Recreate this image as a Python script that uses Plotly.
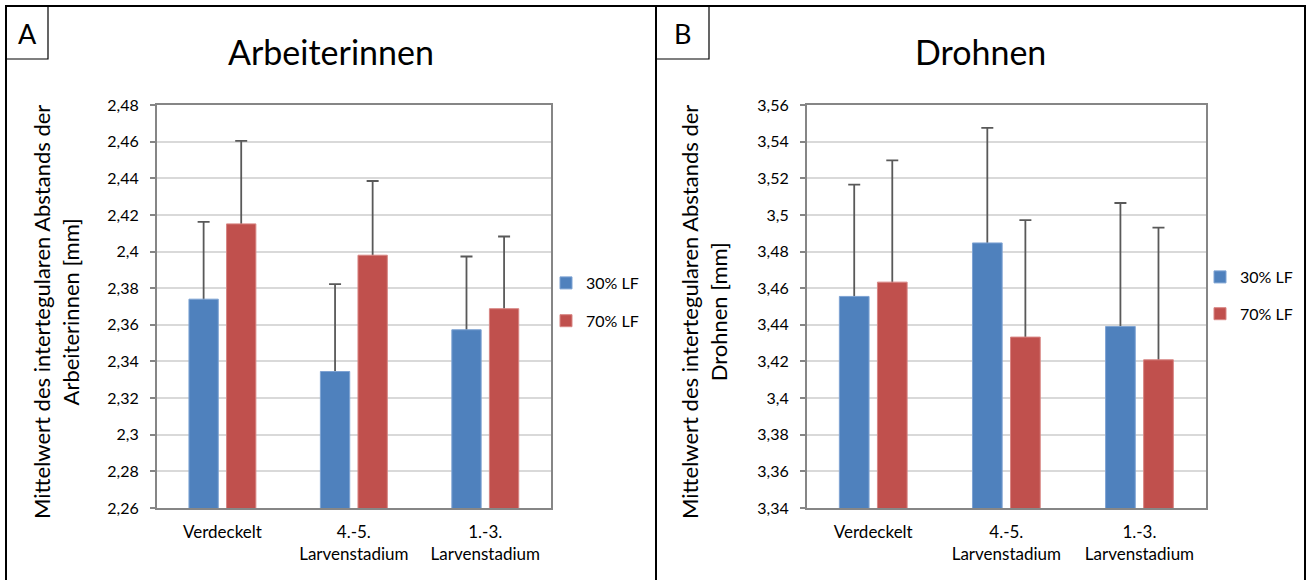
import plotly.graph_objects as go

# ---------------- data ----------------
categories = ["Verdeckelt", "4.-5.<br>Larvenstadium", "1.-3.<br>Larvenstadium"]
series_names = ["30% LF", "70% LF"]

workers_30 = [2.374, 2.3345, 2.3573]
workers_70 = [2.4151, 2.398, 2.3688]
workers_30_err = [0.0422, 0.0477, 0.0400]
workers_70_err = [0.0453, 0.0405, 0.0394]

drones_30 = [3.4555, 3.4847, 3.4391]
drones_70 = [3.4633, 3.4333, 3.4209]
drones_30_err = [0.0610, 0.0628, 0.0674]
drones_70_err = [0.0665, 0.0638, 0.0722]

workers_ticks = [2.26, 2.28, 2.30, 2.32, 2.34, 2.36, 2.38, 2.40, 2.42, 2.44, 2.46, 2.48]
workers_ticktext = ["2,26", "2,28", "2,3", "2,32", "2,34", "2,36", "2,38", "2,4", "2,42", "2,44", "2,46", "2,48"]
drones_ticks = [3.34, 3.36, 3.38, 3.40, 3.42, 3.44, 3.46, 3.48, 3.50, 3.52, 3.54, 3.56]
drones_ticktext = ["3,34", "3,36", "3,38", "3,4", "3,42", "3,44", "3,46", "3,48", "3,5", "3,52", "3,54", "3,56"]

panel_titles = ["Arbeiterinnen", "Drohnen"]
panel_letters = ["A", "B"]
y_titles = ["Mittelwert des intertegularen Abstands der<br>Arbeiterinnen [mm]",
            "Mittelwert des intertegularen Abstands der<br>Drohnen [mm]"]

# ---------------- style ----------------
W, H = 1307, 580
BLUE, RED = "#4F81BD", "#C0504D"
BLUE_EDGE, RED_EDGE = "#7EA3D3", "#D88583"
ERR = "#595959"
FONT = "Lato, 'Open Sans', sans-serif"

def px(x):
    return x / W

def py(y):
    return 1 - y / H

fig = go.Figure()

panels = [
    dict(xa="x", ya="y", legend="legend",
         vals=[workers_30, workers_70], errs=[workers_30_err, workers_70_err]),
    dict(xa="x2", ya="y2", legend="legend2",
         vals=[drones_30, drones_70], errs=[drones_30_err, drones_70_err]),
]
colors = [BLUE, RED]
edges = [BLUE_EDGE, RED_EDGE]

for p in panels:
    for i in range(2):
        # error-bar carrier, drawn first so the solid bar hides the lower half
        fig.add_trace(go.Bar(
            x=categories, y=p["vals"][i], xaxis=p["xa"], yaxis=p["ya"],
            offsetgroup=str(i), marker=dict(color="rgba(0,0,0,0)", line=dict(width=0)),
            error_y=dict(type="data", array=p["errs"][i], symmetric=True,
                         color=ERR, thickness=1.8, width=6),
            showlegend=False, hoverinfo="skip",
        ))
        fig.add_trace(go.Bar(
            x=categories, y=p["vals"][i], xaxis=p["xa"], yaxis=p["ya"],
            offsetgroup=str(i), name=series_names[i], legend=p["legend"],
            legendgroup=p["legend"] + str(i),
            marker=dict(color=colors[i], line=dict(color=edges[i], width=1)),
        ))

y_top, y_bot = 105, 508
axis_common = dict(showline=True, linecolor="#868686", linewidth=1.5, mirror=True,
                   automargin=False, zeroline=False)

fig.update_layout(
    width=W, height=H, autosize=False,
    margin=dict(l=0, r=0, t=0, b=0, pad=0),
    paper_bgcolor="white", plot_bgcolor="white",
    barmode="group", bargap=0.428, bargroupgap=0.22,
    font=dict(family=FONT, color="#000000", size=16),
    xaxis=dict(domain=[px(156.7), px(551)], anchor="y", ticks="",
               tickfont=dict(size=17), ticklabelstandoff=8, **axis_common),
    xaxis2=dict(domain=[px(806.7), px(1206)], anchor="y2", ticks="",
                tickfont=dict(size=17), ticklabelstandoff=8, **axis_common),
    yaxis=dict(domain=[py(y_bot), py(y_top)], anchor="x", range=[2.26, 2.48],
               tickvals=workers_ticks, ticktext=workers_ticktext,
               ticks="outside", ticklen=5, tickcolor="#868686", tickwidth=1.5,
               showgrid=True, gridcolor="#D9D9D9", gridwidth=1.5,
               tickfont=dict(size=16), ticklabelstandoff=8, **axis_common),
    yaxis2=dict(domain=[py(y_bot), py(y_top)], anchor="x2", range=[3.34, 3.56],
                tickvals=drones_ticks, ticktext=drones_ticktext,
                ticks="outside", ticklen=5, tickcolor="#868686", tickwidth=1.5,
                showgrid=True, gridcolor="#D9D9D9", gridwidth=1.5,
                tickfont=dict(size=16), ticklabelstandoff=8, **axis_common),
    legend=dict(x=px(546), y=py(266), xanchor="left", yanchor="top",
                bgcolor="rgba(0,0,0,0)", font=dict(size=16),
                tracegroupgap=14, traceorder="grouped"),
    legend2=dict(x=px(1200), y=py(260), xanchor="left", yanchor="top",
                 bgcolor="rgba(0,0,0,0)", font=dict(size=16),
                 tracegroupgap=13, traceorder="grouped"),
    showlegend=True,
)

shapes = [
    dict(type="rect", xref="paper", yref="paper", x0=px(6), x1=px(1305), y0=py(582), y1=py(6),
         line=dict(color="black", width=2)),
    dict(type="line", xref="paper", yref="paper", x0=px(656), x1=px(656), y0=py(582), y1=py(6),
         line=dict(color="black", width=2)),
    dict(type="rect", xref="paper", yref="paper", x0=px(6), x1=px(48), y0=py(59), y1=py(6),
         line=dict(color="black", width=1.2)),
    dict(type="rect", xref="paper", yref="paper", x0=px(656), x1=px(709), y0=py(59), y1=py(6),
         line=dict(color="black", width=1.2)),
]
fig.update_layout(shapes=shapes)

annotations = []
annotations.append(dict(text=panel_letters[0], x=px(27), y=py(33), xref="paper", yref="paper",
                        showarrow=False, font=dict(size=27), xanchor="center", yanchor="middle"))
annotations.append(dict(text=panel_letters[1], x=px(682.5), y=py(33), xref="paper", yref="paper",
                        showarrow=False, font=dict(size=27), xanchor="center", yanchor="middle"))
annotations.append(dict(text=panel_titles[0], x=px(331), y=py(52), xref="paper", yref="paper",
                        showarrow=False, font=dict(size=34), xanchor="center", yanchor="middle"))
annotations.append(dict(text=panel_titles[1], x=px(980), y=py(52), xref="paper", yref="paper",
                        showarrow=False, font=dict(size=34), xanchor="center", yanchor="middle"))
annotations.append(dict(text=y_titles[0], x=px(56), y=py(312), xref="paper", yref="paper",
                        showarrow=False, textangle=-90, font=dict(size=22),
                        xanchor="center", yanchor="middle"))
annotations.append(dict(text=y_titles[1], x=px(704), y=py(312), xref="paper", yref="paper",
                        showarrow=False, textangle=-90, font=dict(size=22),
                        xanchor="center", yanchor="middle"))
fig.update_layout(annotations=annotations)

fig.write_html("out.html", config={"displayModeBar": False},
               post_script="document.body.style.margin='0';document.body.style.overflow='hidden';")
